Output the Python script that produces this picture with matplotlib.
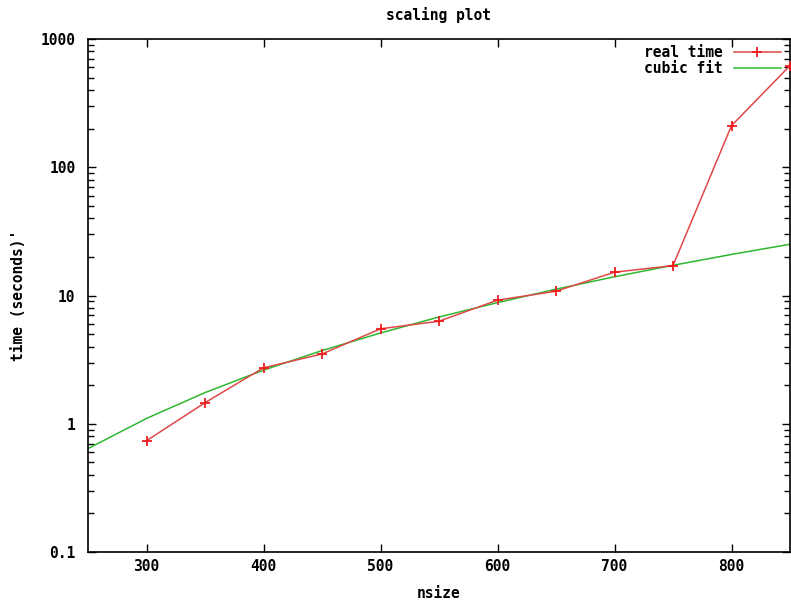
import matplotlib
matplotlib.use("Agg")
import matplotlib.pyplot as plt
from matplotlib.ticker import LogLocator, NullFormatter, FixedLocator

nsize = [300, 350, 400, 450, 500, 550, 600, 650, 700, 750, 800, 850]
real_time = [0.737, 1.46, 2.73, 3.5, 5.5, 6.3, 9.2, 10.8, 15.2, 17.1, 211, 620]

fit_n = [250, 300, 350, 400, 450, 500, 550, 600, 650, 700, 750, 800, 850]
fit_t = [0.64, 1.10, 1.75, 2.62, 3.72, 5.1, 6.8, 8.8, 11.2, 14.0, 17.2, 20.9, 25.1]

xticks = [300, 400, 500, 600, 700, 800]
yticks = [0.1, 1, 10, 100, 1000]
ytick_labels = ["0.1", "1", "10", "100", "1000"]

font = {"family": "DejaVu Sans Mono", "weight": "bold", "size": 10.5}

fig = plt.figure(figsize=(7.91, 6.02), dpi=100)
ax = fig.add_axes([88/791, 1 - 552/602, (790-88)/791, (552-39)/602])

ax.plot(fit_n, fit_t, color="#2db82d", lw=1.1, label="cubic fit", zorder=2)
ax.plot(nsize, real_time, color="#e04848", lw=1.1, marker="+", markersize=7,
        markeredgecolor="#ee1c1c", markeredgewidth=1.3, label="real time", zorder=3)

ax.set_yscale("log")
ax.set_xlim(250, 850)
ax.set_ylim(0.1, 1000)
ax.xaxis.set_major_locator(FixedLocator(xticks))
ax.set_xticklabels([str(t) for t in xticks], fontdict=font)
ax.set_yticks(yticks)
ax.set_yticklabels(ytick_labels, fontdict=font)
ax.yaxis.set_minor_locator(LogLocator(base=10, subs=range(2, 10)))
ax.yaxis.set_minor_formatter(NullFormatter())
ax.tick_params(which="both", direction="in", top=True, right=True, color="black")
ax.tick_params(which="major", length=6, width=1, pad=5)
ax.tick_params(axis="y", which="major", pad=9)
ax.tick_params(which="minor", length=4, width=1)
ax.tick_params(axis="x", which="minor", bottom=False, top=False)
for s in ax.spines.values():
    s.set_linewidth(1.2)

ax.set_title("scaling plot", fontdict=font, pad=14)
ax.set_xlabel("nsize", fontdict=font, va="center")
ax.xaxis.set_label_coords(0.5, (552 - 594) / 513)
ax.set_ylabel("time (seconds)'", fontdict=font, va="center")
ax.yaxis.set_label_coords((19 - 88) / 702, 0.5)

handles, labels = ax.get_legend_handles_labels()
order = [1, 0]
leg = ax.legend([handles[i] for i in order], [labels[i] for i in order],
                loc="upper right", frameon=False, markerfirst=False,
                prop={"family": "DejaVu Sans Mono", "weight": "bold", "size": 10.5},
                handlelength=3.2, handletextpad=0.8, borderaxespad=0.0,
                labelspacing=0.1, bbox_to_anchor=(0.995, 1.0))
for t in leg.get_texts():
    t.set_ha("right")

fig.savefig("out.png", dpi=100)
